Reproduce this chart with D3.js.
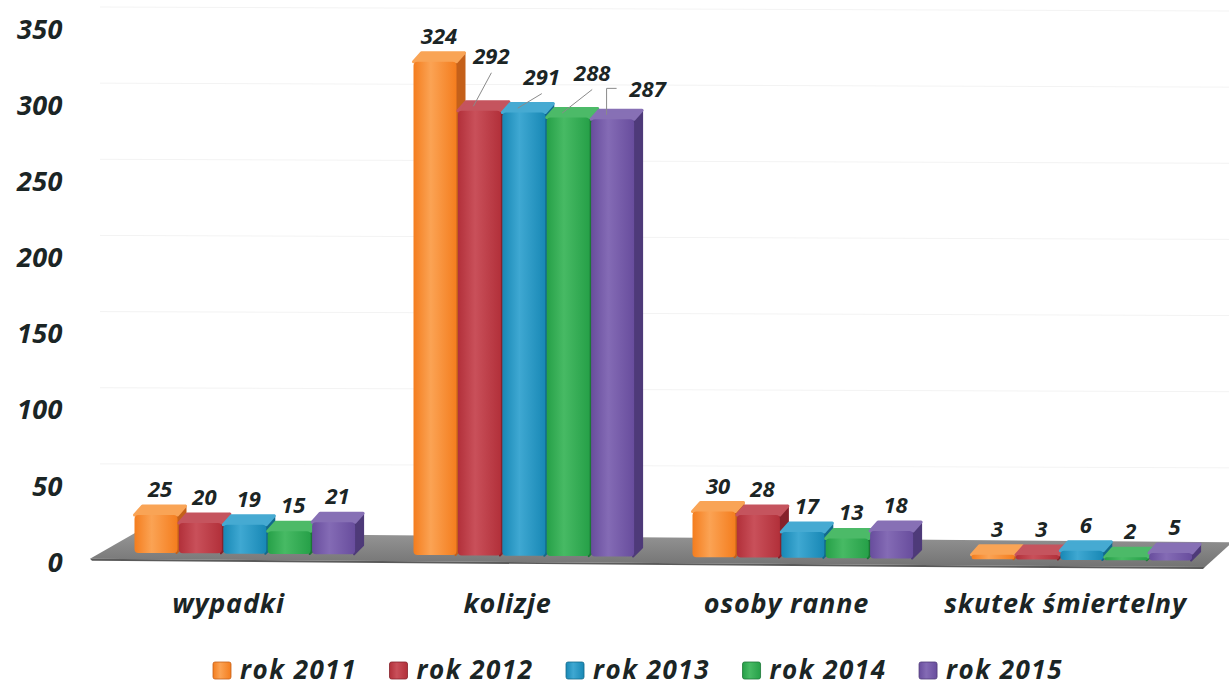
<!DOCTYPE html>
<html><head><meta charset="utf-8">
<script src="https://cdn.jsdelivr.net/npm/d3@7"></script>
<style>
body{margin:0;background:#fff}
svg{display:block}
text{font-family:"Open Sans",Lato,sans-serif;font-style:italic;font-weight:700;fill:#1b2525}
</style>
</head><body>
<svg id="chart" width="1229" height="688"></svg>
<script>
// ---- data ----
const categories = ["wypadki", "kolizje", "osoby ranne", "skutek śmiertelny"];
const seriesNames = ["rok 2011", "rok 2012", "rok 2013", "rok 2014", "rok 2015"];
const rok2011 = [25, 324, 30, 3];
const rok2012 = [20, 292, 28, 3];
const rok2013 = [19, 291, 17, 6];
const rok2014 = [15, 288, 13, 2];
const rok2015 = [21, 287, 18, 5];
const yTicks = [0, 50, 100, 150, 200, 250, 300, 350];

const seriesValues = [rok2011, rok2012, rok2013, rok2014, rok2015];

// ---- styles ----
const palette = [
  {front:"#f47d1e", light:"#fba354", top:"#f9a456", side:"#c4601a"},
  {front:"#b2303a", light:"#c9505a", top:"#c5545e", side:"#86222b"},
  {front:"#1888b5", light:"#3fa8d2", top:"#46aad2", side:"#12698c"},
  {front:"#26a048", light:"#47ba64", top:"#4cba68", side:"#1b7635"},
  {front:"#684d9d", light:"#846bb5", top:"#8770b5", side:"#4e3a79"}
];
// label displacement for crowded labels (category index, series index)
const labelNudge = {
  "1-1": {dx: 8, dy: -29, elbow: false},
  "1-2": {dx: 14, dy: -10, elbow: false},
  "1-3": {dx: 20, dy: -19, elbow: false},
  "1-4": {dx: 31, dy: -4, elbow: true}
};

const W = 1229, H = 688;
const svg = d3.select("#chart");
const defs = svg.append("defs");

const y = d3.scaleLinear().domain([0, 350]).range([562, 29]);
const x0 = d3.scaleBand().domain(categories).range([106, 1222]);
const groupW = 222;
const x1 = d3.scaleBand().domain(seriesNames).range([0, groupW]);
const barW = 43, depthX = 8, depthY = -9;
const slope = 0.0075;
const baseY = x => y(0) - 9 + (x - 134) * slope;

palette.forEach((p, i) => {
  const g = defs.append("linearGradient").attr("id", "gf" + i).attr("x1", 0).attr("x2", 1).attr("y1", 0).attr("y2", 0);
  g.append("stop").attr("offset", "0%").attr("stop-color", p.front);
  g.append("stop").attr("offset", "40%").attr("stop-color", p.light);
  g.append("stop").attr("offset", "100%").attr("stop-color", p.front);
});
const fg = defs.append("linearGradient").attr("id", "floorG").attr("x1", 0).attr("x2", 0).attr("y1", 0).attr("y2", 1);
fg.append("stop").attr("offset", "0%").attr("stop-color", "#959595");
fg.append("stop").attr("offset", "100%").attr("stop-color", "#737373");

// gridlines (back wall)
svg.append("g").selectAll("line").data(yTicks.filter(t => t > 0)).join("line")
  .attr("x1", 100).attr("x2", W)
  .attr("y1", d => y(d) - 22).attr("y2", d => y(d) - 18)
  .attr("stroke", "#f3f3f3").attr("stroke-width", 1);

// y-axis labels
svg.append("g").selectAll("text").data(yTicks).join("text")
  .attr("x", 63).attr("y", d => y(d)).attr("dy", "0.36em")
  .attr("text-anchor", "end").style("font-size", "27px").style("letter-spacing", "0.5px")
  .text(d => d);

// floor
const fx0 = x0.range()[0];
const floorPts = [
  [fx0 - 16, baseY(fx0) + 6],
  [fx0 + 29, baseY(fx0 + 29) - 20],
  [W, baseY(W) - 19],
  [W, baseY(W) - 16],
  [W - 24, baseY(W - 24) + 6],
];
svg.append("polygon").attr("points", floorPts.map(p => p.join(",")).join(" "))
  .attr("fill", "url(#floorG)");
svg.append("polygon").attr("points", [
  [fx0 - 16, baseY(fx0) + 6], [W - 24, baseY(W - 24) + 6], [W - 26, baseY(W - 26) + 8], [fx0 - 14, baseY(fx0) + 8]
].map(p => p.join(",")).join(" ")).attr("fill", "#5a5a5a");

// bars
const barsG = svg.append("g");
const labelsG = svg.append("g");
categories.forEach((c, ci) => {
  const gx = x0(c) + (x0.bandwidth() - groupW) / 2;
  seriesNames.forEach((s, si) => {
    const v = seriesValues[si][ci];
    const bx = gx + x1(s);
    const b = baseY(bx);
    const h = y(0) - y(v);
    const top = b - h;
    const p = palette[si];
    const g = barsG.append("g");
    g.append("polygon").attr("points", [
      [bx + barW - 1, top], [bx + barW + depthX, top + depthY], [bx + barW + depthX, b + depthY], [bx + barW - 1, b]
    ].map(q => q.join(",")).join(" ")).attr("fill", p.side)
      .attr("stroke", p.side).attr("stroke-linejoin", "round").attr("stroke-width", 2);
    g.append("polygon").attr("points", [
      [bx, top], [bx + depthX, top + depthY], [bx + barW + depthX, top + depthY], [bx + barW, top]
    ].map(q => q.join(",")).join(" ")).attr("fill", p.top)
      .attr("stroke", p.top).attr("stroke-linejoin", "round").attr("stroke-width", 3);
    g.append("rect").attr("x", bx).attr("y", top).attr("width", barW).attr("height", Math.max(h, 1))
      .attr("rx", Math.min(4, h / 2)).attr("fill", `url(#gf${si})`);

    const nudge = labelNudge[ci + "-" + si];
    let lx = bx + barW / 2 + depthX / 2;
    let ly = top + depthY - 9;
    if (nudge) {
      lx += nudge.dx; ly += nudge.dy;
      const tx = bx + barW * 0.36, ty = top + depthY / 2;
      if (nudge.elbow) {
        const sx = lx - 31;
        labelsG.append("polyline").attr("points", `${sx},${ly - 9} ${tx},${ly - 9} ${tx},${ty}`)
          .attr("fill", "none").attr("stroke", "#8a8a8a").attr("stroke-width", 1);
      } else {
        labelsG.append("line").attr("x1", lx).attr("y1", ly + 9).attr("x2", tx).attr("y2", ty)
          .attr("stroke", "#8a8a8a").attr("stroke-width", 1);
      }
    }
    labelsG.append("text").attr("x", lx).attr("y", ly).attr("text-anchor", "middle")
      .style("font-size", "22px").text(v);
  });
});

// category labels
svg.append("g").selectAll("text").data(categories).join("text")
  .attr("x", d => x0(d) + x0.bandwidth() / 2 - 17).attr("y", 613)
  .attr("text-anchor", "middle").style("font-size", "27px").style("letter-spacing", "0.8px")
  .text(d => d);

// legend
const legend = svg.append("g");
const items = legend.selectAll("g").data(seriesNames).join("g");
items.append("rect").attr("y", -1).attr("width", 18).attr("height", 17).attr("rx", 2)
  .attr("fill", (d, i) => `url(#gf${i})`).attr("stroke", (d, i) => palette[i].side).attr("stroke-width", 0.8);
items.append("text").attr("x", 27).attr("y", 16).style("font-size", "26px").style("letter-spacing", "1.5px").text(d => d);
const widths = [];
items.each(function () { widths.push(d3.select(this).select("text").node().getComputedTextLength() + 27); });
const legendStart = 213, legendEnd = 1063;
const gap = (legendEnd - legendStart - d3.sum(widths)) / (widths.length - 1);
let cx = legendStart;
items.attr("transform", (d, i) => {
  const t = `translate(${cx},${663})`;
  cx += widths[i] + gap;
  return t;
});
</script>
</body></html>
